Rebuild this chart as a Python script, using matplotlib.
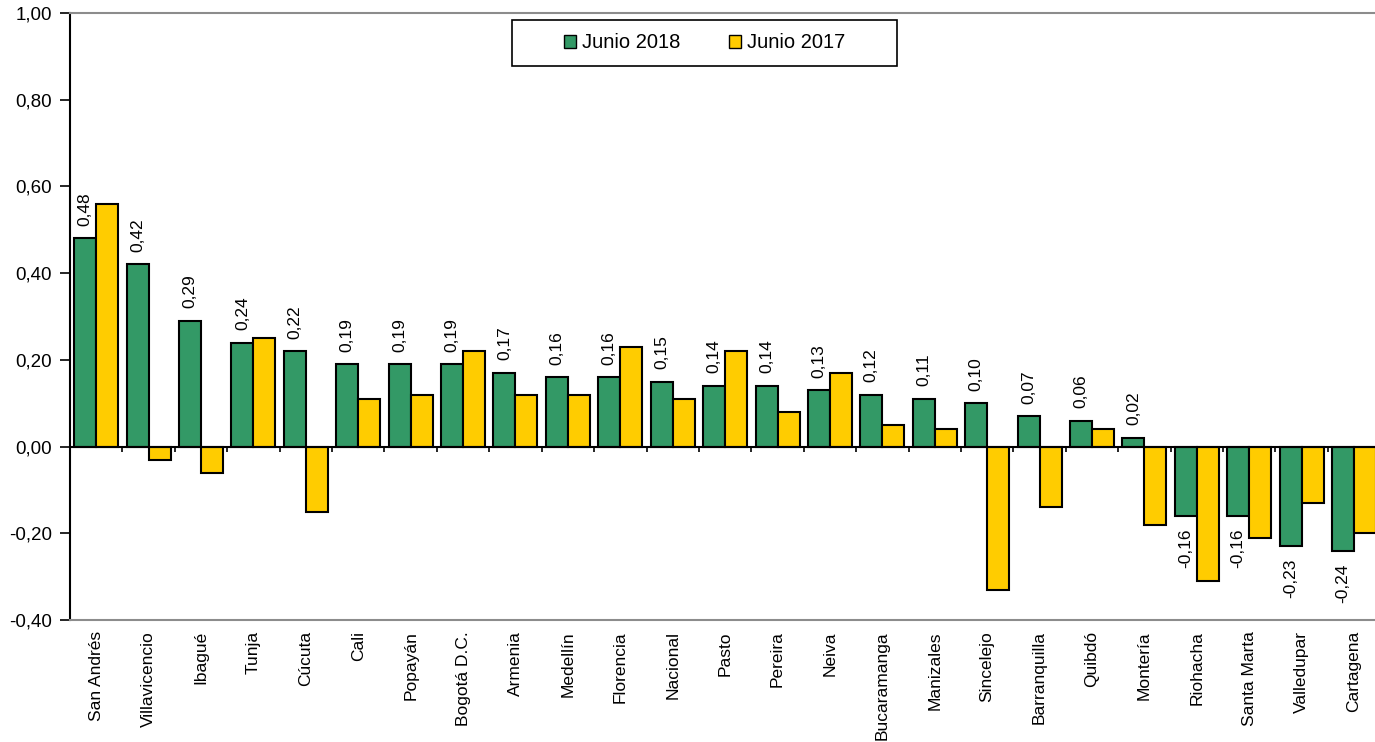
import numpy as np
from matplotlib import pyplot as plt
from matplotlib.ticker import FuncFormatter
from matplotlib.patches import Rectangle

plt.rcParams['font.family'] = ['Liberation Sans', 'DejaVu Sans']

#data
ciudades = ['San Andrés', 'Villavicencio', 'Ibagué', 'Tunja', 'Cúcuta', 'Cali', 'Popayán',
            'Bogotá D.C.', 'Armenia', 'Medellín', 'Florencia', 'Nacional', 'Pasto', 'Pereira',
            'Neiva', 'Bucaramanga', 'Manizales', 'Sincelejo', 'Barranquilla', 'Quibdó',
            'Montería', 'Riohacha', 'Santa Marta', 'Valledupar', 'Cartagena']
junio_2018 = [0.48, 0.42, 0.29, 0.24, 0.22, 0.19, 0.19, 0.19, 0.17, 0.16, 0.16, 0.15, 0.14,
              0.14, 0.13, 0.12, 0.11, 0.10, 0.07, 0.06, 0.02, -0.16, -0.16, -0.23, -0.24]
junio_2017 = [0.56, -0.03, -0.06, 0.25, -0.15, 0.11, 0.12, 0.22, 0.12, 0.12, 0.23, 0.11, 0.22,
              0.08, 0.17, 0.05, 0.04, -0.33, -0.14, 0.04, -0.18, -0.31, -0.21, -0.13, -0.20]

verde = '#339966'
amarillo = '#FFCC00'
n = len(ciudades)
x = np.arange(n)
w = 0.42

fig = plt.figure(figsize=(13.75, 7.42), dpi=100)
ax = fig.add_axes([70/1375, 1-620/742, 1-70/1375, (620-13)/742])

ax.bar(x-w/2, junio_2018, w, color=verde, edgecolor='black', linewidth=1.5, label='Junio 2018', zorder=3)
ax.bar(x+w/2, junio_2017, w, color=amarillo, edgecolor='black', linewidth=1.5, label='Junio 2017', zorder=3)

#data labels (only 2018)
for xi, v in zip(x, junio_2018):
    txt = f'{v:.2f}'.replace('.', ',')
    if v >= 0:
        ax.annotate(txt, (xi-w/2, v), xytext=(0, 9), textcoords='offset points',
                    rotation=90, ha='center', va='bottom', fontsize=12.5)
    else:
        ax.annotate(txt, (xi-w/2, v), xytext=(0, -9), textcoords='offset points',
                    rotation=90, ha='center', va='top', fontsize=12.5)

#zero line and ticks between categories
ax.axhline(0, color='black', lw=1.5, zorder=4)
ax.vlines(x[:-1]+0.5, -0.012, 0, color='black', lw=1.2, zorder=4)

ax.set_xlim(-0.5, 24.4)
ax.set_ylim(-0.40, 1.00)
ax.set_yticks(np.arange(-0.4, 1.01, 0.2))
ax.yaxis.set_major_formatter(FuncFormatter(lambda v, p: f'{v:.2f}'.replace('.', ',')))
ax.tick_params(axis='y', direction='out', length=7, width=1.2, labelsize=13.5, pad=6)
ax.set_xticks(x)
ax.set_xticklabels(ciudades, rotation=90, fontsize=12.5)
ax.tick_params(axis='x', length=0, pad=8)

ax.spines['left'].set_color('black')
ax.spines['left'].set_linewidth(1.5)
ax.spines['top'].set_color('#8c8c8c')
ax.spines['bottom'].set_color('#8c8c8c')
ax.spines['top'].set_linewidth(1.5)
ax.spines['bottom'].set_linewidth(1.5)
ax.spines['right'].set_visible(False)

#legend with its own box
x0, x1 = (512-70)/1305, (897-70)/1305
y0, y1 = 1-(66-13)/607, 1-(20-13)/607
ax.add_patch(Rectangle((x0, y0), x1-x0, y1-y0, transform=ax.transAxes, facecolor='white',
                       edgecolor='black', lw=1.2, zorder=5))
leg = ax.legend(loc='center', bbox_to_anchor=((x0+x1)/2, (y0+y1)/2), ncol=2, fontsize=14.5,
                frameon=False, handlelength=0.6, handleheight=0.6,
                columnspacing=2.4, handletextpad=0.3, borderaxespad=0)
leg.set_zorder(6)
for h in leg.legend_handles:
    h.set_linewidth(1)

plt.savefig('out.png')
